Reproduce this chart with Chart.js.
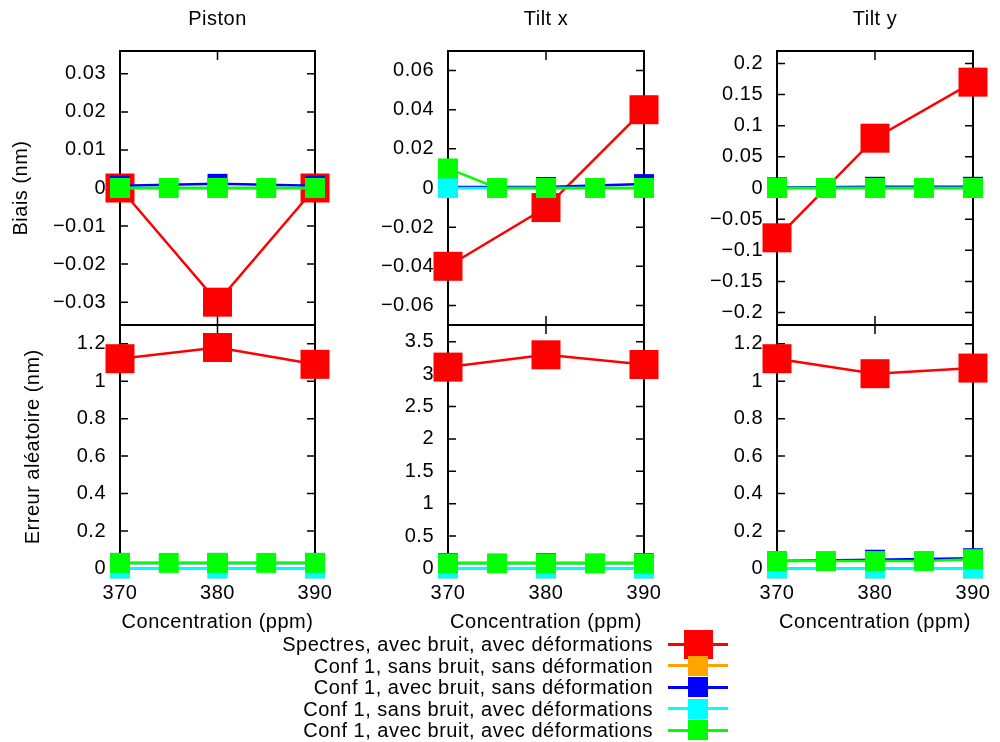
<!DOCTYPE html>
<html>
<head>
<meta charset="utf-8">
<script src="https://cdn.jsdelivr.net/npm/chart.js@4"></script>
<style>
body { margin: 0; background: #fff; width: 1000px; height: 742px; position: relative; overflow: hidden; font-family: 'Liberation Sans', Arial, sans-serif; }
canvas { position: absolute; }
.lg { position: absolute; font-size: 20px; letter-spacing: 0.5px; color: #000; white-space: nowrap; line-height: 22px; }
</style>
</head>
<body>
<script>
// x values (ppm)
let conc3 = [370, 380, 390];
let conc5 = [370, 375, 380, 385, 390];
let xTicks = [370, 380, 390];

// series
let seriesNames = [
  "Spectres, avec bruit, avec déformations",
  "Conf 1, sans bruit, sans déformation",
  "Conf 1, avec bruit, sans déformation",
  "Conf 1, sans bruit, avec déformations",
  "Conf 1, avec bruit, avec déformations"
];
let seriesColors = ["#ff0000", "#ffa500", "#0000ff", "#00ffff", "#00ff00"];

// Biais (nm) - Piston
let pistonBiaisSpectres = [0, -0.03, 0];
let pistonBiaisSbSd = [0, 0, 0];
let pistonBiaisAbSd = [0.0006, 0.0011, 0.0006];
let pistonBiaisSbAd = [0, 0, 0];
let pistonBiaisAbAd = [0, 0, 0, 0, 0];
// Biais (nm) - Tilt x
let tiltxBiaisSpectres = [-0.04, -0.01, 0.04];
let tiltxBiaisSbSd = [0, 0, 0];
let tiltxBiaisAbSd = [0.0005, 0.0005, 0.002];
let tiltxBiaisSbAd = [0, 0, 0];
let tiltxBiaisAbAd = [0.01, 0, 0, 0, 0];
// Biais (nm) - Tilt y
let tiltyBiaisSpectres = [-0.08, 0.08, 0.17];
let tiltyBiaisSbSd = [0, 0, 0];
let tiltyBiaisAbSd = [0.001, 0.002, 0.002];
let tiltyBiaisSbAd = [0, 0, 0];
let tiltyBiaisAbAd = [0, 0, 0, 0, 0];

// Erreur aleatoire (nm)
let pistonErrSpectres = [1.12, 1.18, 1.09];
let pistonErrSbSd = [0, 0, 0];
let pistonErrAbSd = [0.03, 0.03, 0.03];
let pistonErrSbAd = [0, 0, 0];
let pistonErrAbAd = [0.03, 0.03, 0.03, 0.03, 0.03];

let tiltxErrSpectres = [3.11, 3.30, 3.15];
let tiltxErrSbSd = [0, 0, 0];
let tiltxErrAbSd = [0.085, 0.085, 0.085];
let tiltxErrSbAd = [0, 0, 0];
let tiltxErrAbAd = [0.08, 0.08, 0.08, 0.08, 0.08];

let tiltyErrSpectres = [1.12, 1.04, 1.07];
let tiltyErrSbSd = [0, 0, 0];
let tiltyErrAbSd = [0.04, 0.047, 0.055];
let tiltyErrSbAd = [0, 0, 0];
let tiltyErrAbAd = [0.04, 0.04, 0.04, 0.04, 0.05];

// y ticks
let pistonBiaisTicks = [-0.03, -0.02, -0.01, 0, 0.01, 0.02, 0.03];
let tiltxBiaisTicks = [-0.06, -0.04, -0.02, 0, 0.02, 0.04, 0.06];
let tiltyBiaisTicks = [-0.2, -0.15, -0.1, -0.05, 0, 0.05, 0.1, 0.15, 0.2];
let pistonErrTicks = [0, 0.2, 0.4, 0.6, 0.8, 1, 1.2];
let tiltxErrTicks = [0, 0.5, 1, 1.5, 2, 2.5, 3, 3.5];
let tiltyErrTicks = [0, 0.2, 0.4, 0.6, 0.8, 1, 1.2];

Chart.defaults.font.family = "'Liberation Sans', Arial, sans-serif";
Chart.defaults.font.size = 20;
Chart.defaults.color = "#000";

// layout of the grid (page px)
let colLeft = [120, 448, 777];
let colWidth = [195, 196, 196];
let axisW = 120;

let panels = [
  {col: 0, row: 0, title: "Piston", yTitle: "Biais (nm)", yMin: -0.036, yMax: 0.036, yTicks: pistonBiaisTicks,
   series: [pistonBiaisSpectres, pistonBiaisSbSd, pistonBiaisAbSd, pistonBiaisSbAd, pistonBiaisAbAd]},
  {col: 1, row: 0, title: "Tilt x", yMin: -0.07, yMax: 0.07, yTicks: tiltxBiaisTicks,
   series: [tiltxBiaisSpectres, tiltxBiaisSbSd, tiltxBiaisAbSd, tiltxBiaisSbAd, tiltxBiaisAbAd]},
  {col: 2, row: 0, title: "Tilt y", yMin: -0.22, yMax: 0.22, yTicks: tiltyBiaisTicks,
   series: [tiltyBiaisSpectres, tiltyBiaisSbSd, tiltyBiaisAbSd, tiltyBiaisSbAd, tiltyBiaisAbAd]},
  {col: 0, row: 1, yTitle: "Erreur aléatoire (nm)", yMin: 0, yMax: 1.3, yTicks: pistonErrTicks,
   series: [pistonErrSpectres, pistonErrSbSd, pistonErrAbSd, pistonErrSbAd, pistonErrAbAd]},
  {col: 1, row: 1, yMin: 0, yMax: 3.76, yTicks: tiltxErrTicks,
   series: [tiltxErrSpectres, tiltxErrSbSd, tiltxErrAbSd, tiltxErrSbAd, tiltxErrAbAd]},
  {col: 2, row: 1, yMin: 0, yMax: 1.3, yTicks: tiltyErrTicks,
   series: [tiltyErrSpectres, tiltyErrSbSd, tiltyErrAbSd, tiltyErrSbAd, tiltyErrAbAd]}
];

function fmt(v) {
  return String(Math.round(v * 10000) / 10000).replace("-", "\u2212");
}

// gnuplot style border + inward ticks, drawn under the data
let framePlugin = {
  id: "frame",
  beforeDraw(chart) {
    chart.ctx.letterSpacing = "0.5px";
  },
  beforeDatasetsDraw(chart) {
    let ctx = chart.ctx, a = chart.chartArea;
    let xs = chart.scales.x, ys = chart.scales.y;
    let yt = chart.options.plugins.frame.yTicks;
    ctx.save();
    ctx.strokeStyle = "#000";
    ctx.lineWidth = 1.5;
    ctx.beginPath();
    yt.forEach(function(v) {
      let py = ys.getPixelForValue(v);
      ctx.moveTo(a.left, py); ctx.lineTo(a.left + 8, py);
      ctx.moveTo(a.right, py); ctx.lineTo(a.right - 8, py);
    });
    xTicks.forEach(function(v) {
      let px = xs.getPixelForValue(v);
      ctx.moveTo(px, a.top); ctx.lineTo(px, a.top + 9);
      ctx.moveTo(px, a.bottom); ctx.lineTo(px, a.bottom - 9);
    });
    ctx.stroke();
    ctx.lineWidth = 2;
    ctx.strokeRect(a.left, a.top, a.right - a.left, a.bottom - a.top);
    ctx.restore();
  }
};

function makePanel(p) {
  let cv = document.createElement("canvas");
  let w = axisW + colWidth[p.col] + 50;
  // top row: chart area 51..325 ; bottom row: chart area 325..568
  let top = p.row === 0 ? 0 : 275;
  let h = p.row === 0 ? 375 : 368;
  cv.width = w;
  cv.height = h;
  cv.style.left = (colLeft[p.col] - axisW) + "px";
  cv.style.top = top + "px";
  document.body.appendChild(cv);

  let datasets = p.series.map(function(vals, i) {
    let xs = vals.length === 5 ? conc5 : conc3;
    return {
      label: seriesNames[i],
      data: xs.map(function(x, k) { return {x: x, y: vals[k]}; }),
      borderColor: seriesColors[i],
      backgroundColor: seriesColors[i],
      borderWidth: 2.5,
      pointStyle: "rect",
      pointRadius: i === 0 ? 20.5 : 14.1,
      pointBorderWidth: 0,
      tension: 0,
      clip: false,
      order: 4 - i
    };
  });

  new Chart(cv, {
    type: "line",
    data: {datasets: datasets},
    options: {
      responsive: false,
      animation: false,
      events: [],
      layout: {padding: p.row === 0 ? {left: 0, right: 50, top: 0, bottom: 50} : {left: 0, right: 50, top: 50, bottom: 5}},
      plugins: {
        legend: {display: false},
        tooltip: {enabled: false},
        frame: {yTicks: p.yTicks},
        title: {display: p.row === 0, text: p.title || "", fullSize: false, color: "#000",
                font: {size: 20, weight: "normal"}, padding: {top: 7, bottom: 20}}
      },
      scales: {
        x: {
          type: "linear", min: 370, max: 390, display: p.row === 1,
          afterBuildTicks: function(s) { s.ticks = xTicks.map(function(v) { return {value: v}; }); },
          ticks: {padding: 12.5, color: "#000", autoSkip: false, maxRotation: 0},
          grid: {display: false, drawTicks: false},
          border: {display: false},
          title: {display: true, text: "Concentration (ppm)", color: "#000", padding: {top: 4, bottom: 4}},
          afterFit: function(s) { s.height = p.row === 1 ? 69.5 : 0; }
        },
        y: {
          min: p.yMin, max: p.yMax,
          afterBuildTicks: function(s) { s.ticks = p.yTicks.map(function(v) { return {value: v}; }); },
          ticks: {padding: 14, color: "#000", autoSkip: false, callback: function(v) { return fmt(v); }},
          grid: {display: false, drawTicks: false},
          border: {display: false},
          title: {display: !!p.yTitle, text: p.yTitle || "", color: "#000",
                  padding: {top: p.row === 0 ? 9 : 21, bottom: 0}},
          afterFit: function(s) { s.width = axisW; }
        }
      }
    },
    plugins: [framePlugin]
  });
}

panels.forEach(makePanel);

// legend below the grid
let legendTop = 644;
let legendStep = 21.5;
seriesNames.forEach(function(name, i) {
  let cy = legendTop + i * legendStep;
  let lbl = document.createElement("div");
  lbl.className = "lg";
  lbl.textContent = name;
  lbl.style.right = (1000 - 653) + "px";
  lbl.style.top = (cy - 11) + "px";
  document.body.appendChild(lbl);

  let ln = document.createElement("div");
  ln.style.cssText = "position:absolute;left:668px;width:60px;height:3px;background:" + seriesColors[i] + ";top:" + (cy - 1.5) + "px";
  document.body.appendChild(ln);

  let s = i === 0 ? 29 : 20;
  let sq = document.createElement("div");
  sq.style.cssText = "position:absolute;width:" + s + "px;height:" + s + "px;background:" + seriesColors[i] +
    ";left:" + (698 - s / 2) + "px;top:" + (cy - s / 2) + "px";
  document.body.appendChild(sq);
});
</script>
</body>
</html>
